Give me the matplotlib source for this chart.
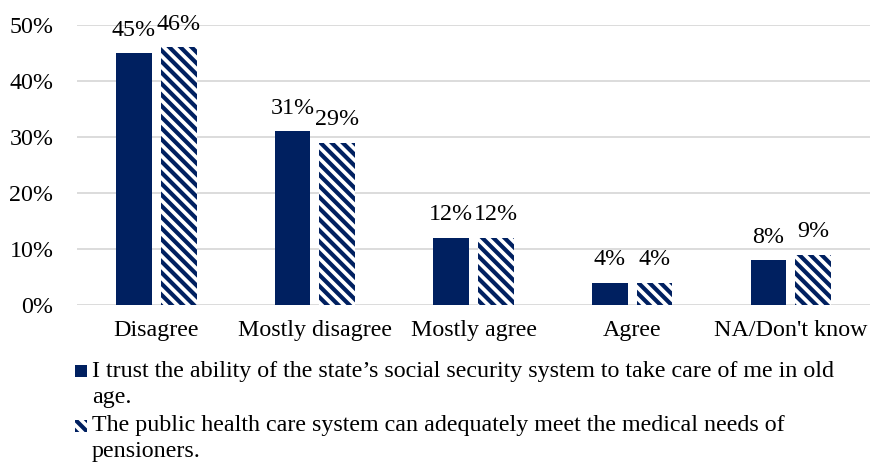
import numpy as np
import matplotlib.pyplot as plt
from matplotlib.patches import Rectangle
import matplotlib.ticker as ticker

categories = ["Disagree", "Mostly disagree", "Mostly agree", "Agree", "NA/Don't know"]
trust_state = [45, 31, 12, 4, 8]
health_care = [46, 29, 12, 4, 9]
series_labels = [
    "I trust the ability of the state\u2019s social security system to take care of me in old\nage.",
    "The public health care system can adequately meet the medical needs of\npensioners.",
]

NAVY = "#002060"
GRID = "#D9D9D9"
FONT = 17.3
HATCH = "\\\\\\"

plt.rcParams["font.family"] = ["Liberation Serif", "DejaVu Serif"]
plt.rcParams["hatch.linewidth"] = 3.0

fig = plt.figure(figsize=(8.71, 4.63), dpi=100)
ax = fig.add_axes([0.0884, 0.3413, 0.9106, 0.6047])

x = np.arange(len(categories))
width = 0.226
offset = 0.141

bars1 = ax.bar(x - offset, trust_state, width, color=NAVY, edgecolor=NAVY, linewidth=0)
bars2 = ax.bar(x + offset, health_care, width, color="white", edgecolor=NAVY,
               linewidth=0, hatch=HATCH)

for bars, vals in ((bars1, trust_state), (bars2, health_care)):
    for b, v in zip(bars, vals):
        ax.annotate(f"{v}%", (b.get_x() + b.get_width() / 2, v), xytext=(0, 12.5),
                    textcoords="offset points", ha="center", va="baseline", fontsize=FONT)

ax.set_xlim(-0.5, len(categories) - 0.5)
ax.set_ylim(0, 50)
ax.yaxis.set_major_locator(ticker.MultipleLocator(10))
ax.yaxis.set_major_formatter(ticker.FuncFormatter(lambda v, p: f"{v:.0f}%"))
ax.set_xticks(x)
ax.set_xticklabels(categories)
ax.tick_params(axis="both", length=0, labelsize=FONT)
ax.tick_params(axis="y", pad=17)
ax.tick_params(axis="x", pad=11)
ax.grid(axis="y", color=GRID, linewidth=1.3)
ax.set_axisbelow(True)
for s in ax.spines.values():
    s.set_visible(False)

# legend drawn by hand so the marker sits on the first text line
W, H = 871, 463
rows = [(365, 361, dict(facecolor=NAVY, edgecolor=NAVY, linewidth=0)),
        (420, 415, dict(facecolor="white", edgecolor=NAVY, linewidth=0, hatch=HATCH))]
for (mtop, ttop, style), label in zip(rows, series_labels):
    fig.patches.append(Rectangle((75 / W, 1 - (mtop + 12) / H), 12 / W, 12 / H,
                                 transform=fig.transFigure, **style))
    fig.text(92 / W, 1 - ttop / H, label, fontsize=FONT, va="top", ha="left",
             linespacing=1.3)

fig.savefig("out.png", dpi=100)
